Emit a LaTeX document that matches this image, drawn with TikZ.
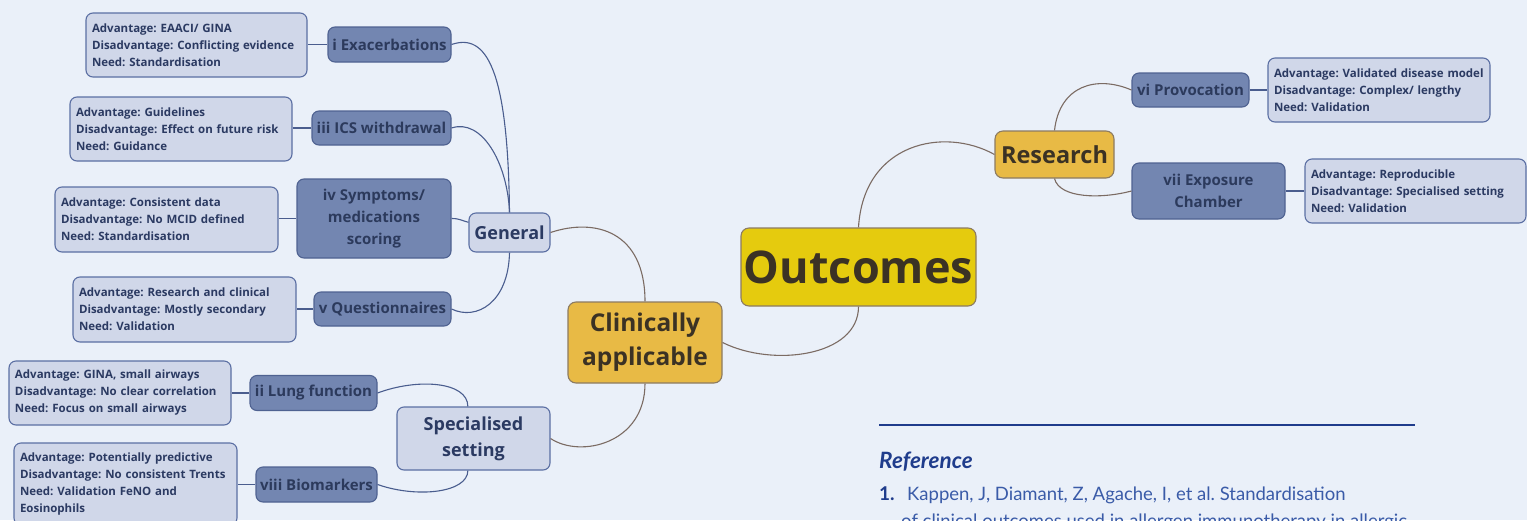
\documentclass[tikz,border=0pt]{standalone}
\usepackage{fontspec}
\setmainfont{Open Sans}
\newfontfamily\reffont{Lato}
\definecolor{bg}{HTML}{EAF0F9}
\definecolor{boxfill}{HTML}{D0D7E9}
\definecolor{boxline}{HTML}{5B6FA3}
\definecolor{boxtext}{HTML}{2B3A62}
\definecolor{subfill}{HTML}{7386B1}
\definecolor{subline}{HTML}{4F6291}
\definecolor{subtext}{HTML}{2C3A5C}
\definecolor{mainfill}{HTML}{E8BA45}
\definecolor{corefill}{HTML}{E5CB0E}
\definecolor{mainline}{HTML}{8C7B62}
\definecolor{maintext}{HTML}{3B3224}
\definecolor{branchline}{HTML}{7B6B63}
\definecolor{twigline}{HTML}{4A5D8E}
\definecolor{refblue}{HTML}{1F3C8C}
\definecolor{reftext}{HTML}{3A5BA8}
\frenchspacing
\begin{document}
\begin{tikzpicture}[x=1pt,y=-1pt,
	box/.style={draw=boxline,fill=boxfill,text=boxtext,line width=1.1pt,rounded corners=7pt,inner sep=0pt},
	leaf/.style={box,align=left,inner xsep=6pt,font=\bfseries\fontsize{11.5}{17}\selectfont},
	sub/.style={box,draw=subline,fill=subfill,text=subtext,align=center,font=\bfseries\fontsize{15}{22}\selectfont},
	mid/.style={box,align=center,font=\bfseries\fontsize{18}{26}\selectfont},
	main/.style={draw=mainline,fill=mainfill,text=maintext,line width=1.1pt,rounded corners=8pt,inner sep=0pt,align=center,font=\bfseries\fontsize{24.5}{34}\selectfont},
	twig/.style={draw=twigline,line width=1.1pt},
	branch/.style={draw=branchline,line width=1.1pt}]
	\useasboundingbox (0,0) rectangle (1527,520);
	\clip (0,0) rectangle (1527,520);
	\fill[bg] (0,0) rectangle (1527,520);

	\node[main,fill=corefill,minimum width=235pt,minimum height=78pt,font=\bfseries\fontsize{45}{50}\selectfont] (outcomes) at (858.5,267) {Outcomes};
	\node[main,minimum width=154pt,minimum height=81pt] (clin) at (645,342.5) {Clinically\\applicable};
	\node[main,minimum width=119pt,minimum height=47pt,font=\bfseries\fontsize{23.5}{30}\selectfont] (research) at (1054.5,154.5) {Research};
	\node[mid,minimum width=81pt,minimum height=39pt] (general) at (509.5,232.5) {General};
	\node[mid,minimum width=153pt,minimum height=63pt] (special) at (473.5,438.5) {Specialised\\setting};

	\node[sub,minimum width=123pt,minimum height=35pt] (exa) at (389.5,44.5) {i Exacerbations};
	\node[sub,minimum width=139pt,minimum height=34pt] (ics) at (381.5,128) {iii ICS withdrawal};
	\node[sub,minimum width=154pt,minimum height=79pt] (sympt) at (374,218.5) {iv Symptoms/\\medications\\scoring};
	\node[sub,minimum width=137pt,minimum height=34pt] (quest) at (382.5,309) {v Questionnaires};
	\node[sub,minimum width=127pt,minimum height=35pt] (lung) at (313.5,393) {ii Lung function};
	\node[sub,minimum width=121pt,minimum height=35pt] (bio) at (316.5,484.5) {viii Biomarkers};
	\node[sub,minimum width=117pt,minimum height=34pt] (provo) at (1190.5,90) {vi Provocation};
	\node[sub,minimum width=153pt,minimum height=56pt] (chamber) at (1208.5,191) {vii Exposure\\Chamber};

	\node[leaf,text width=209pt,minimum height=64pt] (exaLeaf) at (196.5,45) {Advantage: EAACI/ GINA\\Disadvantage: Conflicting evidence\\Need: Standardisation};
	\node[leaf,text width=210pt,minimum height=64pt] (icsLeaf) at (181,129) {Advantage: Guidelines\\Disadvantage: Effect on future risk\\Need: Guidance};
	\node[leaf,text width=211pt,minimum height=65pt] (symptLeaf) at (166.5,219.5) {Advantage: Consistent data\\Disadvantage: No MCID defined\\Need: Standardisation};
	\node[leaf,text width=211pt,minimum height=65pt] (questLeaf) at (184.5,309.5) {Advantage: Research and clinical\\Disadvantage: Mostly secondary\\Need: Validation};
	\node[leaf,text width=210pt,minimum height=64pt] (lungLeaf) at (120,393) {Advantage: GINA, small airways\\Disadvantage: No clear correlation\\Need: Focus on small airways};
	\node[leaf,text width=211pt,minimum height=82pt] (bioLeaf) at (125.5,484) {Advantage: Potentially predictive\\Disadvantage: No consistent Trents\\Need: Validation FeNO and\\Eosinophils};
	\node[leaf,text width=210pt,minimum height=64pt] (provoLeaf) at (1379,90) {Advantage: Validated disease model\\Disadvantage: Complex/ lengthy\\Need: Validation};
	\node[leaf,text width=209pt,minimum height=64pt] (chamberLeaf) at (1415.5,191) {Advantage: Reproducible\\Disadvantage: Specialised setting\\Need: Validation};

	\draw[twig] (exa.west) -- (exa.west -| exaLeaf.east);
	\draw[twig] (ics.west) -- (ics.west -| icsLeaf.east);
	\draw[twig] (sympt.west) -- (sympt.west -| symptLeaf.east);
	\draw[twig] (quest.west) -- (quest.west -| questLeaf.east);
	\draw[twig] (lung.west) -- (lung.west -| lungLeaf.east);
	\draw[twig] (bio.west) -- (bio.west -| bioLeaf.east);
	\draw[twig] (provo.east) -- (provo.east -| provoLeaf.west);
	\draw[twig] (chamber.east) -- (chamber.east -| chamberLeaf.west);

	\draw[twig] (exa.east) .. controls +(35,-12) and +(-1.5,-143) .. (general.north);
	\draw[twig] (ics.east) .. controls +(30,-10) and +(-2,-50) .. (general.north);
	\draw[twig] (sympt.east) .. controls +(8,0) and +(-8,-2) .. (general.166);
	\draw[twig] (quest.east) .. controls +(25,12) and +(-1,50) .. (general.south);
	\draw[twig] (lung.east) .. controls +(40,-15) and +(0,-25) .. (special.100);
	\draw[twig] (bio.east) .. controls +(40,14) and +(0,22) .. (special.260);

	\draw[branch] (general.east) .. controls +(45,-15) and +(0,-70) .. (clin.north);
	\draw[branch] (special.east) .. controls +(30,20) and +(0,60) .. (clin.south);
	\draw[branch] (clin.east) .. controls +(50,25) and +(0,50) .. (outcomes.south);
	\draw[branch] (outcomes.north) .. controls +(5,-85) and +(-50,-28) .. (research.west);
	\draw[branch] (research.north) .. controls +(5,-45) and +(-35,-15) .. (provo.west);
	\draw[branch] (research.south) .. controls +(5,20) and +(-30,8) .. (chamber.west);

	\coordinate (ruleL) at (879,425);
	\coordinate (ruleR) at (1415,425);
	\draw[refblue,line width=2pt] (ruleL) -- (ruleR);
	\node[anchor=base west,inner sep=0pt,text=refblue,font=\reffont\bfseries\itshape\fontsize{22.5}{26}\selectfont] (refHead) at (879,468) {Reference};
	\node[anchor=base west,inner sep=0pt,text=refblue,font=\reffont\bfseries\fontsize{19}{24}\selectfont] (refNum) at (879,500) {1.};
	\node[anchor=base west,inner sep=0pt,text=reftext,font=\reffont\fontsize{18.5}{24}\selectfont] (refLine1) at (907,500) {Kappen, J, Diamant, Z, Agache, I, et al. Standardisation};
	\node[anchor=base west,inner sep=0pt,text=reftext,font=\reffont\fontsize{18.5}{24}\selectfont] (refLine2) at (901,527) {of clinical outcomes used in allergen immunotherapy in allergic};
\end{tikzpicture}
\end{document}
